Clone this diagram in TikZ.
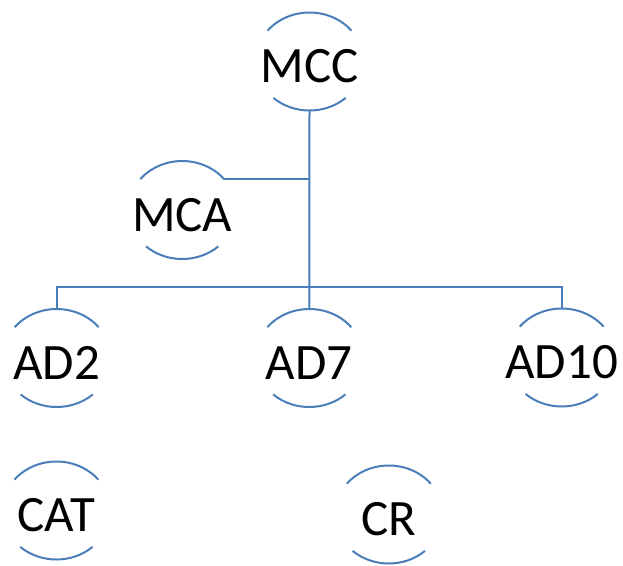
\documentclass[tikz,border=0pt]{standalone}
\usepackage{fontspec}
\setmainfont{Carlito}
\usetikzlibrary{shapes.geometric}
\definecolor{ringblue}{RGB}{74,126,187}
\tikzset{
  ring/.style={ellipse, draw=none, minimum width=108pt, minimum height=98pt, inner sep=0pt, outer sep=0pt},
  txt/.style={anchor=base, inner sep=0pt, yshift=-21pt, font=\fontsize{51}{60}\selectfont, text=black},
  ringline/.style={draw=ringblue, line width=2pt},
  conn/.style={draw=ringblue, line width=2pt}
}
\begin{document}
\begin{tikzpicture}[x=1pt,y=1pt]
\useasboundingbox (0,0) rectangle (623,-565);
% rings
\node[ring] (MCC)  at (309.5,-61.5) {};
\node[ring] (MCA)  at (182.2,-210) {};
\node[ring] (AD2)  at (56.7,-358) {};
\node[ring] (AD7)  at (309.3,-358) {};
\node[ring] (AD10) at (561.7,-357.5) {};
\node[ring] (CAT)  at (56.4,-510.5) {};
\node[ring] (CR)   at (388.8,-514.5) {};
% labels
\node[txt] (MCC-t)  at (MCC.center)  {MCC};
\node[txt] (MCA-t)  at (MCA.center)  {MCA};
\node[txt] (AD2-t)  at (AD2.center)  {AD2};
\node[txt] (AD7-t)  at (AD7.center)  {AD7};
\node[txt] (AD10-t) at (AD10.center) {AD10};
\node[txt] (CAT-t)  at (CAT.center)  {CAT};
\node[txt] (CR-t)   at (CR.center)   {CR};
% arcs
\foreach \n in {MCC,MCA,AD2,AD7,AD10,CAT,CR}{
  \draw[ringline] ([shift={(39:54pt and 49pt)}]\n.center)
     arc[start angle=39, end angle=141, x radius=54pt, y radius=49pt];
  \draw[ringline] ([shift={(228:54pt and 49pt)}]\n.center)
     arc[start angle=228, end angle=312, x radius=54pt, y radius=49pt];
}
% connectors
\coordinate (MCA-tr) at ([shift={(39:54pt and 49pt)}]MCA.center);
\draw[conn] (MCC.south) -- (AD7.north);
\draw[conn] (AD2.north) -- ++(0,22) -| (AD10.north);
\draw[conn] (MCA-tr) -- (MCA-tr -| MCC.south);
\end{tikzpicture}
\end{document}
